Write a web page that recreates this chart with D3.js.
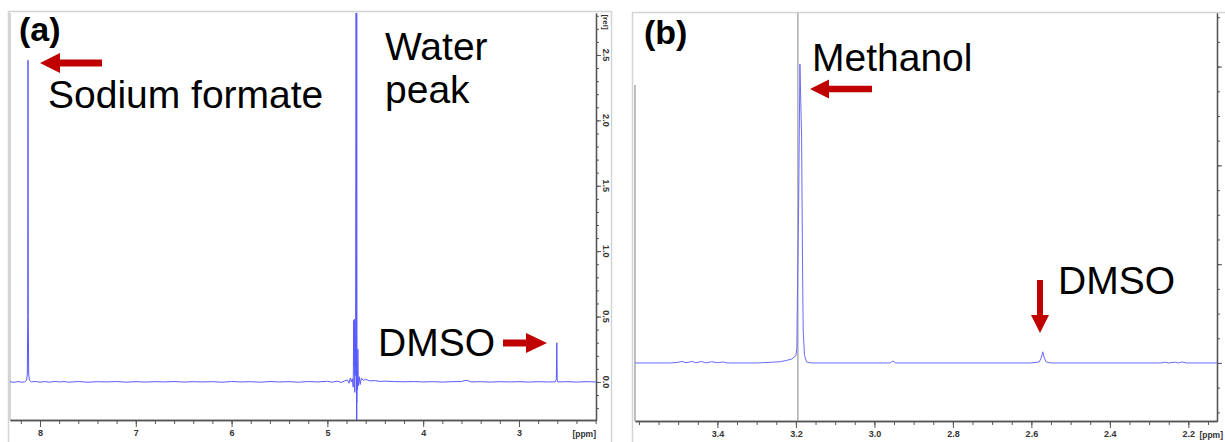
<!DOCTYPE html>
<html>
<head>
<meta charset="utf-8">
<script src="https://cdnjs.cloudflare.com/ajax/libs/d3/7.8.5/d3.min.js"></script>
<style>
  body { margin: 0; background: #fff; }
  svg { display: block; font-family: "Liberation Sans", Arial, sans-serif; }
  .tick text { font-size: 9px; font-weight: bold; fill: #333; }
  .note { font-size: 39px; fill: #000; }
  .tag { font-size: 34px; font-weight: bold; fill: #000; }
</style>
</head>
<body>
<div id="chart"></div>
<script>
// Spectrum (a): [ppm, rel. intensity]
const spectrumA = [
    [8.313, 0.002], [8.27, -0.003], [8.23, 0.003], [8.19, -0.002], [8.16, 0.001],
    [8.14, 0.012], [8.132, 0.06], [8.128, 0.5], [8.125, 2.46], [8.122, 0.5],
    [8.118, 0.06], [8.11, 0.012], [8.09, 0.0], [8.05, 0.004], [8.0, -0.002],
    [7.95, 0.003], [7.9, -0.002], [7.85, 0.004], [7.8, 0.0], [7.75, 0.003],
    [7.7, -0.002], [7.6, 0.003], [7.5, -0.002], [7.4, 0.002], [7.3, 0.0],
    [7.2, 0.003], [7.1, -0.002], [7.0, 0.002], [6.9, -0.001], [6.8, 0.002],
    [6.7, 0.0], [6.6, 0.003], [6.5, -0.001], [6.4, 0.002], [6.3, 0.0],
    [6.2, 0.002], [6.1, -0.002], [6.0, 0.003], [5.9, 0.0], [5.8, 0.002],
    [5.7, -0.002], [5.6, 0.003], [5.5, 0.0], [5.4, 0.002], [5.3, -0.002],
    [5.2, 0.003], [5.1, 0.0], [5.0, 0.005], [4.95, -0.002], [4.9, 0.006],
    [4.85, -0.004], [4.82, 0.008], [4.79, 0.015], [4.775, -0.01], [4.76, 0.03],
    [4.75, 0.0], [4.74, 0.025], [4.73, -0.04], [4.725, 0.47], [4.722, 0.12],
    [4.718, 0.48], [4.714, -0.08], [4.71, 0.36], [4.706, 0.05], [4.703, 2.0],
    [4.700, 3.0], [4.697, 2.0], [4.694, -0.16], [4.69, 0.08], [4.686, -0.06],
    [4.682, 0.25], [4.677, -0.03], [4.668, 0.04], [4.658, -0.02], [4.645, 0.03],
    [4.625, 0.012], [4.6, 0.02], [4.56, 0.008], [4.5, 0.01], [4.45, 0.004],
    [4.4, 0.006], [4.3, 0.003], [4.2, 0.001], [4.1, 0.003], [4.0, 0.0],
    [3.9, 0.002], [3.8, -0.001], [3.7, 0.002], [3.6, 0.003], [3.56, 0.012],
    [3.53, 0.009], [3.5, 0.0], [3.4, 0.002], [3.3, -0.001], [3.2, 0.002],
    [3.1, 0.0], [3.0, 0.002], [2.9, -0.001], [2.8, 0.002], [2.7, 0.0],
    [2.62, 0.001], [2.61, 0.02], [2.605, 0.3], [2.601, 0.02], [2.595, 0.0],
    [2.5, 0.002], [2.4, -0.001], [2.3, 0.002], [2.196, 0.0]
];

// Spectrum (b): [ppm, rel. intensity]
const spectrumB = [
    [3.61, 0.0], [3.52, 0.0], [3.503, 0.002], [3.49, 0.006], [3.48, 0.001],
    [3.465, 0.006], [3.455, 0.001], [3.44, 0.006], [3.43, 0.0], [3.415, 0.005],
    [3.4, 0.001], [3.385, 0.004], [3.376, 0.0], [3.3, 0.0], [3.26, 0.003],
    [3.24, 0.005], [3.225, 0.01], [3.21, 0.016], [3.2, 0.03], [3.1975, 0.06],
    [3.1967, 0.2], [3.193, 0.65], [3.1898, 1.21], [3.1855, 0.915], [3.183, 0.376],
    [3.1814, 0.13], [3.178, 0.03], [3.1727, 0.004], [3.16, 0.0], [2.96, 0.0],
    [2.953, 0.008], [2.946, 0.0], [2.6, 0.0], [2.58, 0.004], [2.575, 0.02],
    [2.571, 0.045], [2.567, 0.02], [2.562, 0.004], [2.55, 0.0], [2.27, 0.0],
    [2.26, 0.003], [2.25, 0.0], [2.235, 0.003], [2.225, 0.0], [2.215, 0.004],
    [2.205, 0.0], [2.127, 0.0]
];

// Axis ticks
const ppmTicksA = [8, 7, 6, 5, 4, 3];
const ppmTicksB = [3.4, 3.2, 3.0, 2.8, 2.6, 2.4, 2.2];
const relTicksA = [0.0, 0.5, 1.0, 1.5, 2.0, 2.5];
const relTicksB = [0.0, 0.4, 0.8, 1.2];

// Cursor lines
const cursorA = 4.700;
const cursorB = 3.195;

const svg = d3.select("#chart").append("svg")
    .attr("width", 1225)
    .attr("height", 442);

// Scales
const xA = d3.scaleLinear().domain([8.313, 2.196]).range([10, 596]);
const yA = d3.scaleLinear().domain([-0.291, 2.821]).range([420, 13]);
const xB = d3.scaleLinear().domain([3.61, 2.127]).range([635, 1217]);
const yB = d3.scaleLinear().domain([-0.235, 1.417]).range([421, 13]);

// Frames
svg.append("rect").attr("x", 8.5).attr("y", 11.5).attr("width", 603).attr("height", 432)
    .attr("fill", "none").attr("stroke", "#d4d4d4").attr("stroke-width", 1.5);
svg.append("rect").attr("x", 632.5).attr("y", 12.5).attr("width", 600).attr("height", 432)
    .attr("fill", "none").attr("stroke", "#d4d4d4").attr("stroke-width", 1.5);
svg.append("line").attr("x1", 10).attr("x2", 10).attr("y1", 13).attr("y2", 420)
    .attr("stroke", "#b0b0b0");
svg.append("line").attr("x1", 635).attr("x2", 635).attr("y1", 85).attr("y2", 421)
    .attr("stroke", "#a8a8a8").attr("stroke-width", 1.5);

// Clip paths
const defs = svg.append("defs");
defs.append("clipPath").attr("id", "clipA").append("rect")
    .attr("x", 10).attr("y", 13).attr("width", 586).attr("height", 407);
defs.append("clipPath").attr("id", "clipB").append("rect")
    .attr("x", 635).attr("y", 13).attr("width", 582).attr("height", 408);

// Draw x axis (major + minor)
function drawXAxis(x, y0, major, minor, fmt) {
    const gMinor = svg.append("g").attr("transform", `translate(0,${y0})`)
        .call(d3.axisBottom(x).tickValues(minor).tickSize(4).tickSizeOuter(0).tickFormat(""));
    const gMajor = svg.append("g").attr("transform", `translate(0,${y0})`)
        .call(d3.axisBottom(x).tickValues(major).tickSize(7).tickSizeOuter(0).tickFormat(fmt));
    [gMinor, gMajor].forEach(g => {
        g.select(".domain").attr("stroke", "#555").attr("stroke-width", 1.3);
        g.selectAll(".tick line").attr("stroke", "#555");
    });
    gMajor.selectAll(".tick text").attr("y", 10).attr("dy", "0.71em");
}

// Draw y axis on right side (major + minor)
function drawYAxis(y, x0, major, minor) {
    const gMinor = svg.append("g").attr("transform", `translate(${x0},0)`)
        .call(d3.axisRight(y).tickValues(minor).tickSize(3).tickSizeOuter(0).tickFormat(""));
    const gMajor = svg.append("g").attr("transform", `translate(${x0},0)`)
        .call(d3.axisRight(y).tickValues(major).tickSize(5).tickSizeOuter(0).tickFormat(""));
    [gMinor, gMajor].forEach(g => {
        g.select(".domain").attr("stroke", "#555").attr("stroke-width", 1.3);
        g.selectAll(".tick line").attr("stroke", "#555");
    });
}

const minorA = d3.range(8.2, 2.19, -0.2);
const minorB = d3.range(3.6, 2.12, -0.05);
drawXAxis(xA, 420, ppmTicksA, minorA, d3.format(".0f"));
drawXAxis(xB, 421, ppmTicksB, minorB, d3.format(".1f"));
drawYAxis(yA, 596, relTicksA, d3.range(-0.2, 2.81, 0.1));
drawYAxis(yB, 1217, relTicksB, d3.range(-0.2, 1.41, 0.1));

// Rotated y labels for panel (a)
svg.append("g").selectAll("text").data(relTicksA).join("text")
    .attr("transform", d => `translate(603,${yA(d)}) rotate(90)`)
    .attr("text-anchor", "middle")
    .attr("font-size", 9).attr("font-weight", "bold").attr("fill", "#333")
    .text(d => d3.format(".1f")(d));
svg.append("text").attr("transform", "translate(603,22) rotate(90)")
    .attr("text-anchor", "middle").attr("font-size", 8).attr("font-weight", "bold").attr("fill", "#333")
    .text("[rel]");

// Unit labels
svg.append("text").attr("x", 596).attr("y", 437).attr("text-anchor", "end")
    .attr("font-size", 8.5).attr("font-weight", "bold").attr("fill", "#333").text("[ppm]");
svg.append("text").attr("x", 1223).attr("y", 438).attr("text-anchor", "end")
    .attr("font-size", 8.5).attr("font-weight", "bold").attr("fill", "#333").text("[ppm]");

// Cursor lines
svg.append("line").attr("x1", xB(cursorB)).attr("x2", xB(cursorB))
    .attr("y1", 13).attr("y2", 421).attr("stroke", "#9a9a9a").attr("stroke-width", 1.2);
svg.append("line").attr("x1", xA(cursorA) + 0.6).attr("x2", xA(cursorA) + 0.6)
    .attr("y1", 13).attr("y2", 420).attr("stroke", "#3d3dff").attr("stroke-width", 1.2);

// Spectra
svg.append("path").datum(spectrumA)
    .attr("clip-path", "url(#clipA)")
    .attr("fill", "none").attr("stroke", "#5a5aff").attr("stroke-width", 1)
    .attr("d", d3.line().x(d => xA(d[0])).y(d => yA(d[1])));
svg.append("path").datum(spectrumB)
    .attr("clip-path", "url(#clipB)")
    .attr("fill", "none").attr("stroke", "#6a6aff").attr("stroke-width", 1)
    .attr("d", d3.line().x(d => xB(d[0])).y(d => yB(d[1])));

// Arrows
const red = "#c00000";
function arrow(x1, y1, x2, y2, head, half, shaft) {
    // points from tail (x1,y1) to tip (x2,y2)
    const len = Math.hypot(x2 - x1, y2 - y1);
    const ux = (x2 - x1) / len, uy = (y2 - y1) / len;
    const px = -uy, py = ux;
    const bx = x2 - ux * head, by = y2 - uy * head;
    const pts = [
        [x1 + px * shaft, y1 + py * shaft],
        [bx + px * shaft, by + py * shaft],
        [bx + px * half, by + py * half],
        [x2, y2],
        [bx - px * half, by - py * half],
        [bx - px * shaft, by - py * shaft],
        [x1 - px * shaft, y1 - py * shaft]
    ];
    svg.append("path").attr("d", "M" + pts.join("L") + "Z").attr("fill", red);
}
arrow(102, 63, 40, 63, 20, 10, 3.5);
arrow(503, 343, 547, 343, 21, 10, 3.5);
arrow(872, 89, 810, 89, 19, 9.5, 3.2);
arrow(1040, 280, 1040, 333, 18, 9, 3);

// Labels
svg.append("rect").attr("x", 636).attr("y", 14).attr("width", 60).attr("height", 70).attr("fill", "#fff");
svg.append("text").attr("class", "tag").attr("x", 19).attr("y", 41).text("(a)");
svg.append("text").attr("class", "tag").attr("x", 644).attr("y", 44).text("(b)");
svg.append("text").attr("class", "note").attr("x", 48).attr("y", 108).text("Sodium formate");
svg.append("text").attr("class", "note").attr("x", 385).attr("y", 60).text("Water");
svg.append("text").attr("class", "note").attr("x", 385).attr("y", 103).text("peak");
svg.append("text").attr("class", "note").attr("x", 378).attr("y", 356).text("DMSO");
svg.append("text").attr("class", "note").attr("x", 812).attr("y", 71).text("Methanol");
svg.append("text").attr("class", "note").attr("x", 1058).attr("y", 294).text("DMSO");
</script>
</body>
</html>
